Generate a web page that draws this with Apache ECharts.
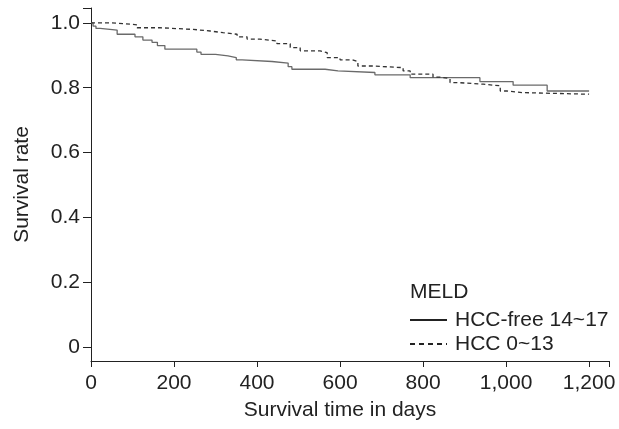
<!DOCTYPE html>
<html>
<head>
<meta charset="utf-8">
<script src="https://cdn.jsdelivr.net/npm/echarts@6/dist/echarts.min.js"></script>
<style>html,body{margin:0;padding:0;background:#fff;}#c{width:619px;height:429px;}</style>
</head>
<body>
<div id="c"></div>
<script>
var xTicks = [0, 200, 400, 600, 800, 1000, 1200];
var yTicks = [0, 0.2, 0.4, 0.6, 0.8, 1.0];
var legendTitle = 'MELD';
var seriesNames = ['HCC-free 14~17', 'HCC 0~13'];
var hccFree = [[0,1.0],[5,0.99],[12,0.983],[22,0.978],[63,0.965],[106,0.957],[125,0.947],[147,0.94],[160,0.93],[178,0.919],[255,0.91],[265,0.903],[300,0.898],[330,0.893],[350,0.886],[364,0.881],[436,0.876],[475,0.865],[484,0.857],[564,0.852],[595,0.847],[684,0.84],[769,0.831],[937,0.819],[1017,0.808],[1099,0.79],[1200,0.79]];
var hcc = [[0,1.0],[50,0.998],[77,0.994],[111,0.985],[166,0.98],[246,0.975],[287,0.97],[318,0.965],[352,0.957],[376,0.95],[407,0.944],[448,0.936],[480,0.924],[504,0.914],[552,0.908],[569,0.893],[600,0.886],[630,0.881],[643,0.867],[680,0.862],[752,0.852],[769,0.842],[824,0.833],[841,0.828],[865,0.816],[882,0.811],[945,0.806],[986,0.79],[1002,0.785],[1039,0.78],[1200,0.78]];

var FONT = '"Liberation Sans", Arial, sans-serif';
var FS = 21;
var chart = echarts.init(document.getElementById('c'));
chart.setOption({
  animation: false,
  backgroundColor: '#fff',
  textStyle: {fontFamily: FONT},
  grid: {left: 91, right: 10, top: 8, bottom: 68, containLabel: false},
  xAxis: {
    type: 'value', min: 0, max: 1248,
    name: 'Survival time in days', nameLocation: 'middle', nameGap: 39,
    nameTextStyle: {fontSize: FS, color: '#222', fontFamily: FONT, padding: [0, 20, 0, 0]},
    axisLine: {show: true, onZero: false, lineStyle: {color: '#222', width: 1}},
    axisTick: {show: true, inside: false, length: 6, customValues: xTicks.concat([1248]), lineStyle: {color: '#222'}},
    axisLabel: {customValues: xTicks, margin: 12, fontSize: FS, color: '#222', fontFamily: FONT,
      formatter: function (v) { return v.toLocaleString('en-US'); }},
    splitLine: {show: false}
  },
  yAxis: {
    type: 'value', min: -0.043, max: 1.046,
    name: 'Survival rate', nameLocation: 'middle', nameGap: 58,
    nameTextStyle: {fontSize: FS, color: '#222', fontFamily: FONT},
    axisLine: {show: true, onZero: false, lineStyle: {color: '#222', width: 1}},
    axisTick: {show: true, length: 8, customValues: yTicks.concat([1.046]), lineStyle: {color: '#222'}},
    axisLabel: {customValues: yTicks, margin: 11, fontSize: FS, color: '#222', fontFamily: FONT,
      formatter: function (v) { return v === 0 ? '0' : v.toFixed(1); }},
    splitLine: {show: false}
  },
  legend: {show: false, data: seriesNames},
  graphic: [
    {type: 'text', x: 410, y: 292, z: 100, style: {text: legendTitle, fontSize: FS, fill: '#222', fontFamily: FONT, verticalAlign: 'middle'}},
    {type: 'line', z: 100, shape: {x1: 410, y1: 320, x2: 447, y2: 320}, style: {stroke: '#222', lineWidth: 2}},
    {type: 'text', x: 455, y: 320, z: 100, style: {text: seriesNames[0], fontSize: FS, fill: '#222', fontFamily: FONT, verticalAlign: 'middle'}},
    {type: 'line', z: 100, shape: {x1: 410, y1: 344, x2: 447, y2: 344}, style: {stroke: '#222', lineWidth: 2, lineDash: [5, 4]}},
    {type: 'text', x: 452, y: 344, z: 100, style: {text: seriesNames[1], fontSize: FS, fill: '#222', fontFamily: FONT, verticalAlign: 'middle', backgroundColor: '#fff', padding: [0, 4, 0, 3]}}
  ],
  series: [
    {name: seriesNames[0], type: 'line', step: 'end', data: hccFree, symbol: 'none',
      lineStyle: {color: '#6a6a6a', width: 1.3, type: 'solid'}, itemStyle: {color: '#6a6a6a'}},
    {name: seriesNames[1], type: 'line', step: 'end', data: hcc, symbol: 'none',
      lineStyle: {color: '#333', width: 1.3, type: [4, 3]}, itemStyle: {color: '#333'}}
  ]
});
</script>
</body>
</html>
